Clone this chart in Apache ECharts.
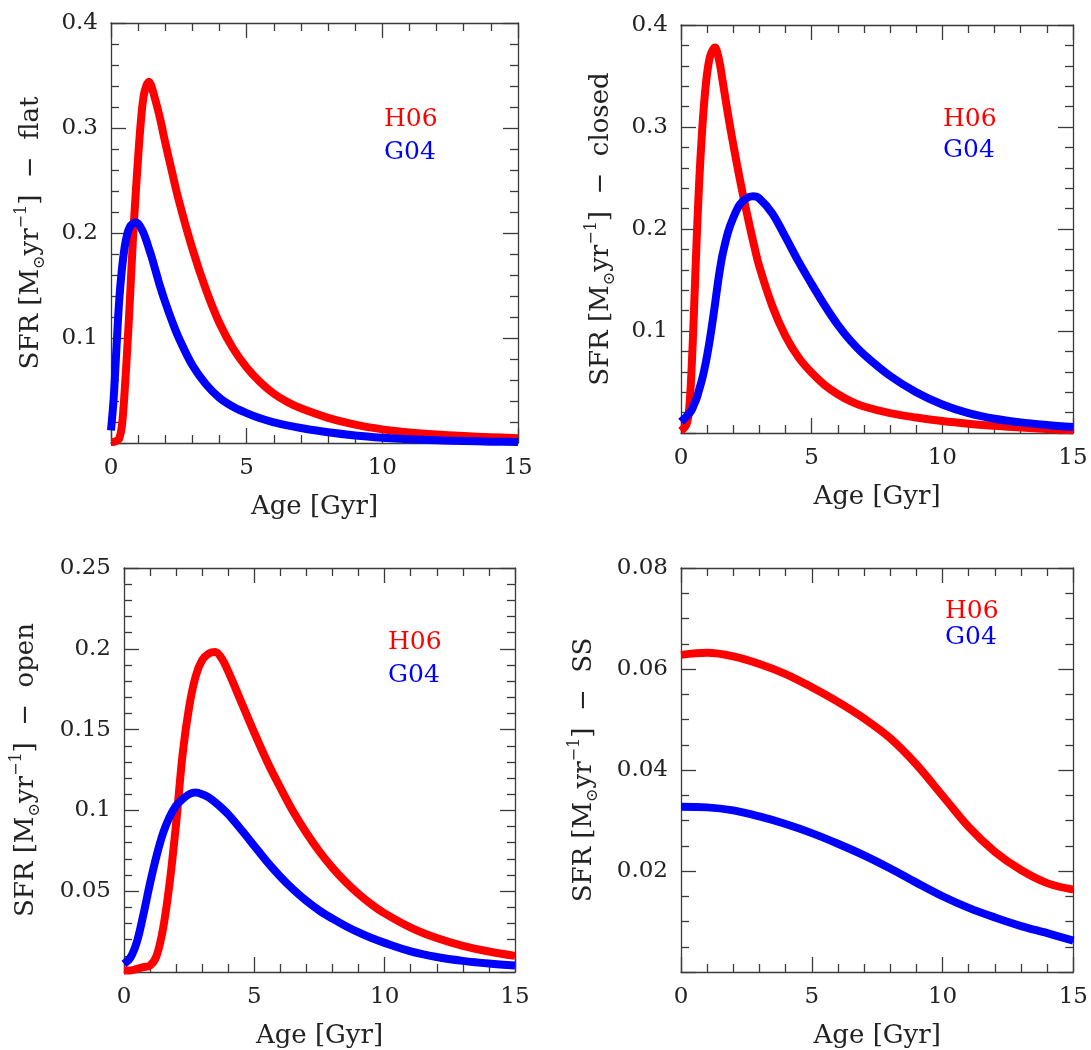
<!DOCTYPE html>
<html>
<head>
<meta charset="utf-8">
<script src="https://cdn.jsdelivr.net/npm/echarts@6/dist/echarts.min.js"></script>
<style>
html,body{margin:0;padding:0;background:#fff;}
#chart{width:1091px;height:1050px;}
</style>
</head>
<body>
<div id="chart"></div>
<script>
// ---------- DATA ----------
const xTickLabels = ['0', '5', '10', '15'];
const seriesNames = ['H06', 'G04'];
const panelTags = ['flat', 'closed', 'open', 'SS'];

// Panel 1: flat
const agesFlat = [0, 0.1, 0.2, 0.3, 0.4, 0.5, 0.6, 0.7, 0.8, 0.9, 1.0, 1.1, 1.2, 1.3, 1.4, 1.5, 1.6, 1.8, 2.0, 2.25, 2.5, 3.0, 3.5, 4.0, 4.5, 5.0, 5.5, 6.0, 6.5, 7.0, 8.0, 9.0, 10.0, 11.0, 12.0, 13.0, 14.0, 15.0];
const h06Flat = [0.001, 0.001, 0.002, 0.004, 0.016, 0.048, 0.090, 0.138, 0.190, 0.233, 0.272, 0.306, 0.330, 0.340, 0.344, 0.339, 0.330, 0.310, 0.286, 0.258, 0.231, 0.185, 0.146, 0.114, 0.090, 0.072, 0.058, 0.047, 0.039, 0.033, 0.024, 0.0175, 0.013, 0.010, 0.008, 0.0066, 0.0055, 0.0046];
const g04Flat = [0.012, 0.043, 0.090, 0.135, 0.165, 0.186, 0.199, 0.206, 0.209, 0.210, 0.209, 0.205, 0.200, 0.193, 0.185, 0.177, 0.168, 0.150, 0.134, 0.116, 0.100, 0.074, 0.056, 0.043, 0.0345, 0.0285, 0.0235, 0.0197, 0.0168, 0.0143, 0.0102, 0.0072, 0.0051, 0.0036, 0.0026, 0.0019, 0.0013, 0.0009];

// Panel 2: closed
const agesClosed = [0, 0.2, 0.3, 0.4, 0.5, 0.6, 0.7, 0.8, 0.9, 1.0, 1.1, 1.2, 1.3, 1.4, 1.5, 1.6, 1.8, 2.0, 2.25, 2.5, 2.75, 3.0, 3.5, 4.0, 4.5, 5.0, 5.5, 6.0, 6.5, 7.0, 8.0, 9.0, 10.0, 11.0, 12.0, 13.0, 14.0, 15.0];
const h06Closed = [0.002, 0.008, 0.020, 0.060, 0.122, 0.190, 0.248, 0.293, 0.328, 0.353, 0.368, 0.375, 0.378, 0.372, 0.360, 0.344, 0.312, 0.283, 0.249, 0.218, 0.189, 0.163, 0.124, 0.095, 0.074, 0.059, 0.047, 0.038, 0.031, 0.026, 0.0195, 0.0152, 0.0117, 0.0091, 0.0071, 0.0054, 0.0039, 0.0026];
const g04Closed = [0.011, 0.016, 0.019, 0.022, 0.028, 0.034, 0.043, 0.052, 0.063, 0.076, 0.091, 0.108, 0.126, 0.145, 0.162, 0.176, 0.197, 0.211, 0.224, 0.230, 0.232, 0.230, 0.215, 0.192, 0.168, 0.146, 0.125, 0.106, 0.090, 0.077, 0.056, 0.040, 0.028, 0.0195, 0.014, 0.0104, 0.0079, 0.0059];

// Panel 3: open
const agesOpen = [0, 0.25, 0.5, 0.75, 1.0, 1.25, 1.5, 1.75, 2.0, 2.25, 2.5, 2.75, 3.0, 3.25, 3.5, 3.75, 4.0, 4.5, 5.0, 5.5, 6.0, 6.5, 7.0, 7.5, 8.0, 8.5, 9.0, 9.5, 10, 11, 12, 13, 14, 15];
const h06Open = [0.001, 0.001, 0.002, 0.003, 0.004, 0.010, 0.027, 0.055, 0.092, 0.135, 0.164, 0.183, 0.193, 0.197, 0.198, 0.194, 0.186, 0.167, 0.148, 0.130, 0.114, 0.099, 0.086, 0.0745, 0.0645, 0.0558, 0.0483, 0.0418, 0.0363, 0.0275, 0.021, 0.0162, 0.0127, 0.010];
const g04Open = [0.005, 0.009, 0.019, 0.036, 0.055, 0.072, 0.086, 0.096, 0.103, 0.107, 0.110, 0.111, 0.110, 0.108, 0.105, 0.1015, 0.0975, 0.088, 0.078, 0.068, 0.059, 0.051, 0.044, 0.038, 0.033, 0.0285, 0.0245, 0.021, 0.018, 0.0128, 0.0093, 0.0069, 0.0052, 0.004];

// Panel 4: SS
const agesSS = [0, 1, 2, 3, 4, 5, 6, 7, 8, 9, 10, 11, 12, 13, 14, 15];
const h06SS = [0.0628, 0.0632, 0.0625, 0.0610, 0.0590, 0.0564, 0.0535, 0.0502, 0.0463, 0.0411, 0.0349, 0.0287, 0.0238, 0.0202, 0.0176, 0.0163];
const g04SS = [0.0327, 0.0326, 0.0320, 0.0308, 0.0293, 0.0275, 0.0254, 0.0231, 0.0205, 0.0177, 0.0150, 0.0127, 0.0108, 0.0091, 0.0077, 0.0062];

const yMaxes = [0.4, 0.4, 0.25, 0.08];
const yIntervals = [0.1, 0.1, 0.05, 0.02];

// ---------- LAYOUT / STYLE ----------
const FONT = 'DejaVu Serif';
const RED = '#ff0000', BLUE = '#0000ff', FRAME = '#3a3a3a', TXT = '#222';
const grids = [
  {left: 111, top: 23, width: 407, height: 420},
  {left: 681, top: 25, width: 392, height: 408},
  {left: 124, top: 568, width: 391, height: 409},
  {left: 681, top: 568, width: 393, height: 409}
];
const yMinorSplit = [5, 5, 5, 4];
const yNameGap = [63, 63, 81, 80];
const legendPos = [
  {x: 384, y1: 119, y2: 152},
  {x: 943, y1: 119, y2: 150},
  {x: 388, y1: 642, y2: 675},
  {x: 945, y1: 611, y2: 637}
];
const panelData = [
  [agesFlat, h06Flat, g04Flat],
  [agesClosed, h06Closed, g04Closed],
  [agesOpen, h06Open, g04Open],
  [agesSS, h06SS, g04SS]
];

const xAxes = [], yAxes = [], series = [], graphics = [];
panelData.forEach((pd, i) => {
  const lineStyle = {color: FRAME, width: 1.3};
  const commonX = {
    type: 'value', gridIndex: i, min: 0, max: 15, interval: 5,
    axisLine: {show: true, onZero: false, lineStyle},
    axisTick: {show: true, inside: true, length: 15, lineStyle},
    minorTick: {show: true, splitNumber: 5, length: 8, lineStyle},
    splitLine: {show: false}, minorSplitLine: {show: false}
  };
  xAxes.push(Object.assign({}, commonX, {
    position: 'bottom',
    axisLabel: {show: true, margin: 14, fontFamily: FONT, fontSize: 23, color: TXT,
      formatter: v => xTickLabels[Math.round(v / 5)]},
    name: 'Age [Gyr]', nameLocation: 'middle', nameGap: 51,
    nameTextStyle: {fontFamily: FONT, fontSize: 26, color: TXT}
  }));
  xAxes.push(Object.assign({}, commonX, {position: 'top', axisLabel: {show: false}}));

  const commonY = {
    type: 'value', gridIndex: i, min: 0, max: yMaxes[i], interval: yIntervals[i],
    axisLine: {show: true, onZero: false, lineStyle},
    axisTick: {show: true, inside: true, length: 15, lineStyle},
    minorTick: {show: true, splitNumber: yMinorSplit[i], length: 8, lineStyle},
    splitLine: {show: false}, minorSplitLine: {show: false}
  };
  const rich = {
    a: {fontFamily: FONT, fontSize: 26, color: TXT, lineHeight: 34},
    sub: {fontFamily: FONT, fontSize: 16, color: TXT, verticalAlign: 'bottom', lineHeight: 16},
    sup: {fontFamily: FONT, fontSize: 16, color: TXT, verticalAlign: 'top', lineHeight: 16}
  };
  yAxes.push(Object.assign({}, commonY, {
    position: 'left',
    axisLabel: {show: true, margin: 13, showMinLabel: false, fontFamily: FONT, fontSize: 23, color: TXT},
    name: '{a|SFR [M}{sub|\u2299}{a|yr}{sup|\u22121}{a|]  \u2212  ' + panelTags[i] + '}',
    nameLocation: 'middle', nameGap: yNameGap[i],
    nameTextStyle: {fontFamily: FONT, fontSize: 26, color: TXT, rich}
  }));
  yAxes.push(Object.assign({}, commonY, {position: 'right', axisLabel: {show: false}}));

  const [ages, h06, g04] = pd;
  const mk = (name, vals, color, z) => ({
    name: name + ' ' + panelTags[i], type: 'line', xAxisIndex: 2 * i, yAxisIndex: 2 * i,
    data: ages.map((a, k) => [a, vals[k]]),
    showSymbol: false, smooth: 0.35, clip: false, z,
    lineStyle: {color, width: 8, join: 'round'}, itemStyle: {color}, emphasis: {disabled: true}
  });
  series.push(mk(seriesNames[0], h06, RED, 2));
  series.push(mk(seriesNames[1], g04, BLUE, 3));

  const lp = legendPos[i];
  graphics.push({type: 'text', x: lp.x, y: lp.y1,
    style: {text: seriesNames[0], fill: RED, font: '25px "' + FONT + '"', align: 'left', verticalAlign: 'middle', textAlign: 'left', textVerticalAlign: 'middle'}});
  graphics.push({type: 'text', x: lp.x, y: lp.y2,
    style: {text: seriesNames[1], fill: BLUE, font: '25px "' + FONT + '"', align: 'left', verticalAlign: 'middle', textAlign: 'left', textVerticalAlign: 'middle'}});
});

const chart = echarts.init(document.getElementById('chart'), null, {renderer: 'canvas'});
chart.setOption({
  backgroundColor: '#ffffff',
  animation: false,
  grid: grids,
  xAxis: xAxes,
  yAxis: yAxes,
  series,
  graphic: graphics
});
</script>
</body>
</html>
